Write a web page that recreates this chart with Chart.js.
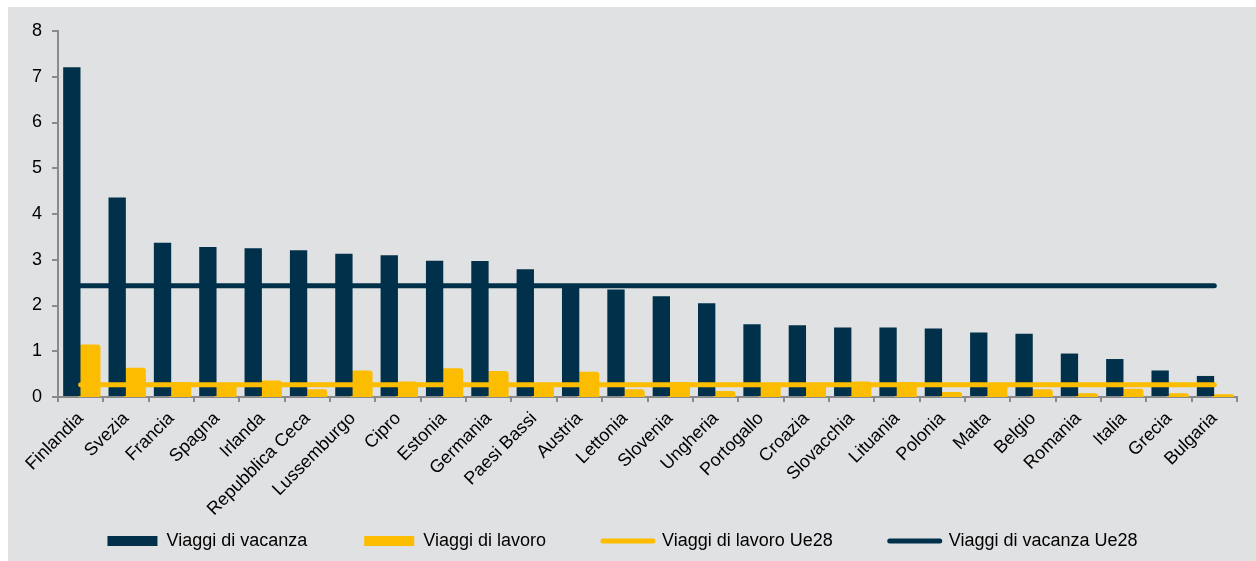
<!DOCTYPE html>
<html>
<head>
<meta charset="utf-8">
<script src="https://cdn.jsdelivr.net/npm/chart.js@4"></script>
<style>
  html, body { margin: 0; padding: 0; background: #ffffff; }
  #bg { position: absolute; left: 8px; top: 7px; right: 0; bottom: 0; background: #e0e1e3; }
  #myChart { position: absolute; left: 0; top: 0; }
</style>
</head>
<body>
<div id="bg"></div>
<canvas id="myChart" width="1256" height="561"></canvas>
<script>
// Categories and values
const countries = ['Finlandia', 'Svezia', 'Francia', 'Spagna', 'Irlanda', 'Repubblica Ceca', 'Lussemburgo',
    'Cipro', 'Estonia', 'Germania', 'Paesi Bassi', 'Austria', 'Lettonia', 'Slovenia', 'Ungheria', 'Portogallo',
    'Croazia', 'Slovacchia', 'Lituania', 'Polonia', 'Malta', 'Belgio', 'Romania', 'Italia', 'Grecia', 'Bulgaria'];

const viaggiVacanza = [7.21, 4.36, 3.37, 3.28, 3.25, 3.21, 3.13, 3.10, 2.98, 2.97, 2.79, 2.45, 2.35,
    2.20, 2.05, 1.59, 1.57, 1.52, 1.52, 1.50, 1.41, 1.38, 0.95, 0.83, 0.58, 0.46];

const viaggiLavoro = [1.15, 0.64, 0.33, 0.28, 0.36, 0.17, 0.58, 0.34, 0.63, 0.57, 0.24, 0.55, 0.17,
    0.33, 0.13, 0.28, 0.30, 0.34, 0.33, 0.11, 0.29, 0.17, 0.08, 0.18, 0.08, 0.06];

// EU28 averages (one value per country, same for all)
const lavoroUe28 = [0.27, 0.27, 0.27, 0.27, 0.27, 0.27, 0.27, 0.27, 0.27, 0.27, 0.27, 0.27, 0.27,
    0.27, 0.27, 0.27, 0.27, 0.27, 0.27, 0.27, 0.27, 0.27, 0.27, 0.27, 0.27, 0.27];
const vacanzaUe28 = [2.43, 2.43, 2.43, 2.43, 2.43, 2.43, 2.43, 2.43, 2.43, 2.43, 2.43, 2.43, 2.43,
    2.43, 2.43, 2.43, 2.43, 2.43, 2.43, 2.43, 2.43, 2.43, 2.43, 2.43, 2.43, 2.43];

const yTicks = [0, 1, 2, 3, 4, 5, 6, 7, 8];

const NAVY = '#01314a';
const YELLOW = '#fcbc00';
const AXIS = '#8a8a8a';

Chart.defaults.font.family = "'Liberation Sans', Arial, sans-serif";
Chart.defaults.color = '#000000';

// category axis whose rotated labels may run past its own box (into the legend band)
class CategoryNoClip extends Chart.CategoryScale {
    _computeLabelArea() { return undefined; }
}
CategoryNoClip.id = 'categoryNoClip';
CategoryNoClip.defaults = Chart.CategoryScale.defaults;
Chart.register(CategoryNoClip);

const ctx = document.getElementById('myChart').getContext('2d');
const chart = new Chart(ctx, {
    type: 'bar',
    data: {
        labels: countries,
        datasets: [{
            label: 'Viaggi di vacanza',
            data: viaggiVacanza,
            backgroundColor: NAVY,
            categoryPercentage: 0.78,
            barPercentage: 0.98,
            order: 1
        }, {
            label: 'Viaggi di lavoro',
            data: viaggiLavoro,
            backgroundColor: YELLOW,
            categoryPercentage: 0.78,
            barPercentage: 1.24,
            base: -0.045,
            borderRadius: 3,
            borderSkipped: false,
            order: 1
        }, {
            type: 'line',
            label: 'Viaggi di lavoro Ue28',
            data: lavoroUe28,
            borderColor: YELLOW,
            backgroundColor: YELLOW,
            borderWidth: 5,
            borderCapStyle: 'round',
            pointRadius: 0,
            order: 0
        }, {
            type: 'line',
            label: 'Viaggi di vacanza Ue28',
            data: vacanzaUe28,
            borderColor: NAVY,
            backgroundColor: NAVY,
            borderWidth: 5,
            borderCapStyle: 'round',
            pointRadius: 0,
            order: 0
        }]
    },
    options: {
        responsive: false,
        animation: false,
        layout: { padding: { left: 8, top: 31, right: 19, bottom: 1 } },
        plugins: {
            tooltip: { enabled: false },
            legend: {
                position: 'bottom',
                labels: {
                    font: { size: 18 },
                    color: '#000000',
                    usePointStyle: true,
                    pointStyleWidth: 50,
                    boxHeight: 10,
                    padding: 57,
                    sort: (a, b) => a.datasetIndex - b.datasetIndex,
                    generateLabels: function (chart) {
                        const items = Chart.defaults.plugins.legend.labels.generateLabels(chart);
                        items.forEach(item => {
                            const ds = chart.data.datasets[item.datasetIndex];
                            item.pointStyle = ds.type === 'line' ? 'line' : 'rect';
                            if (ds.type === 'line') {
                                item.lineWidth = 5;
                                item.lineCap = 'round';
                            }
                        });
                        return items;
                    }
                }
            }
        },
        scales: {
            x: {
                type: 'categoryNoClip',
                afterFit: function (scale) { scale.height = 78; },
                grid: {
                    display: true,
                    drawOnChartArea: false,
                    drawTicks: true,
                    tickLength: 5,
                    tickColor: AXIS,
                    lineWidth: 2
                },
                border: { display: true, color: AXIS, width: 2 },
                ticks: {
                    autoSkip: false,
                    maxRotation: 45,
                    minRotation: 45,
                    padding: 6,
                    font: { size: 18 },
                    color: '#000000'
                }
            },
            y: {
                min: 0,
                max: 8,
                afterFit: function (scale) { scale.width = 50; },
                afterBuildTicks: function (scale) { scale.ticks = yTicks.map(v => ({ value: v })); },
                grid: {
                    display: true,
                    drawOnChartArea: false,
                    drawTicks: true,
                    tickLength: 6,
                    tickColor: AXIS,
                    lineWidth: 2
                },
                border: { display: true, color: AXIS, width: 2 },
                ticks: {
                    padding: 10,
                    font: { size: 18 },
                    color: '#000000'
                }
            }
        }
    }
});
</script>
</body>
</html>
